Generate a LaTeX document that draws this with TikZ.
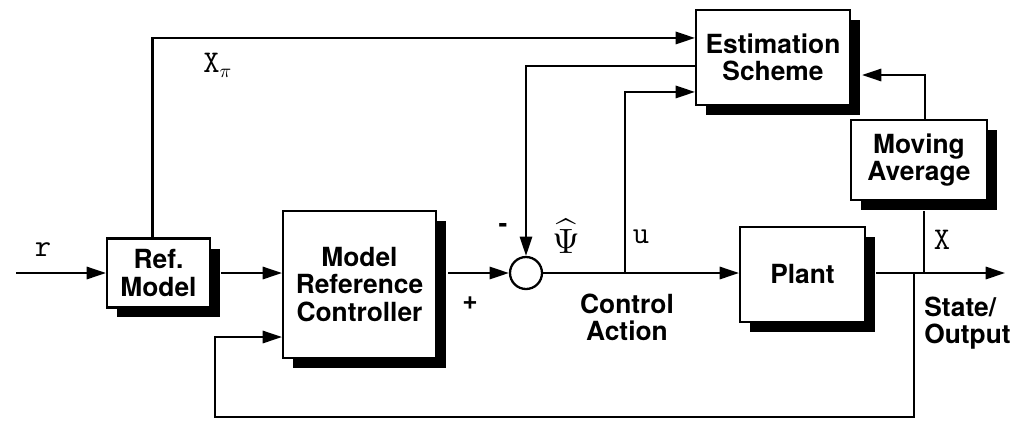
\documentclass[tikz,border=0pt]{standalone}
\usepackage{fontspec}
\setmainfont{TeX Gyre Heros}
\usetikzlibrary{arrows.meta,shadows,calc}
\begin{document}
\begin{tikzpicture}[x=0.02cm,y=-0.02cm,
  blk/.style={draw,line width=1.2pt,fill=white,align=center,inner sep=0pt,
    font=\fontsize{15}{15.5}\selectfont\bfseries,
    drop shadow={shadow xshift=0.2cm,shadow yshift=-0.2cm,opacity=1,fill=black}},
  conn/.style={line width=1.3pt},
  arr/.style={conn,-{Triangle[length=11pt,width=7pt]}},
  lbl/.style={font=\fontsize{15}{15.5}\selectfont\bfseries,align=center,inner sep=0pt},
  mono/.style={font=\ttfamily\fontsize{18}{18}\selectfont,inner sep=0pt}
]
\useasboundingbox (0,0) rectangle (1024,420);

\node[blk,minimum width=2.06cm,minimum height=1.38cm] (ref) at (158.5,273) {Ref.\\Model};
\node[blk,minimum width=3.06cm,minimum height=2.94cm] (mrc) at (359.5,284.5) {Model\\Reference\\Controller};
\node[draw,circle,line width=1.3pt,minimum size=0.64cm,inner sep=0pt] (sum) at (526,273) {};
\node[blk,minimum width=2.5cm,minimum height=1.9cm] (plant) at (802.5,274.5) {Plant};
\node[blk,minimum width=3.08cm,minimum height=1.9cm] (est) at (773,57.5) {Estimation\\Scheme};
\node[blk,minimum width=2.72cm,minimum height=1.6cm] (ma) at (919,160) {Moving\\Average};

\coordinate (rin) at (16,273);
\coordinate (yout) at (1005,273);
\coordinate (uj) at (625,273);
\coordinate (fbj) at (914,273);
\coordinate (fbb) at (914,417);
\coordinate (fbl) at (215,417);
\coordinate (fbm) at (215,337);
\coordinate (maj) at (924,273);
\coordinate (mat) at (925,75);

\draw[arr] (rin) -- (ref.west);
\draw[arr] ($(ref.east)+(10,0)$) -- (ref.east -| mrc.west);
\draw[arr] ($(sum.west -| mrc.east)+(11,0)$) -- (sum.west);
\draw[arr] (sum.east) -- (sum.east -| plant.west);
\draw[arr] ($(sum.east -| plant.east)+(10,0)$) -- (yout);
\draw[arr] (uj) |- ($(est.north west)+(0,83)$);
\draw[arr] ($(ref.north)+(-6,0)$) |- ($(est.north west)+(0,29)$);
\draw[arr] ($(est.north west)+(0,57)$) -| (sum.north);
\draw[arr] (fbj) -- (fbb) -- (fbl) -- (fbm) -- (fbm -| mrc.west);
\draw[conn] (maj) -- ($(ma.south)+(5,10)$);
\draw[arr] ($(ma.north)+(6,0)$) |- ($(est.east |- mat)+(11,0)$);

\node[mono] (rl) at (43,250) {r};
\node[mono,anchor=west] (xpl) at (203,65) {X\raisebox{-3pt}{\fontsize{11}{11}\selectfont$\pi$}};
\node[lbl] (minus) at (503,228) {-};
\node[lbl] (plus) at (470,303) {+};
\node[inner sep=0pt] (psi) at (566,236) {\scalebox{2}{$\widehat{\Psi}$}};
\node[mono] (ul) at (641,237) {u};
\node[lbl] (ca) at (627,317) {Control\\Action};
\node[mono] (xl) at (942,240) {X};
\node[lbl,align=left,anchor=west] (so) at (924,323) {State/\\Output};
\end{tikzpicture}
\end{document}
